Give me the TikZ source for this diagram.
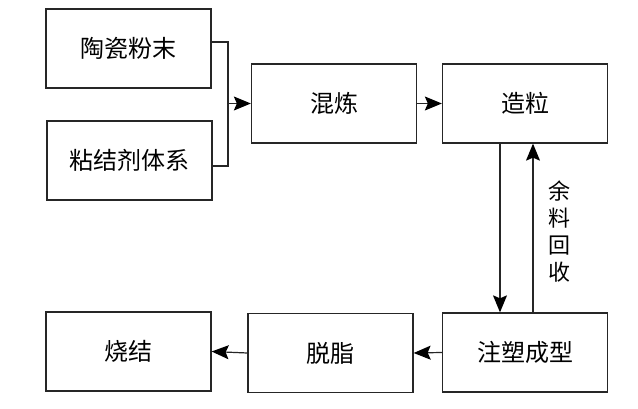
\documentclass[tikz,border=0pt]{standalone}
\usepackage{fontspec}
\newfontfamily\cjk{Noto Sans CJK SC}
\usetikzlibrary{arrows.meta}
\begin{document}
\begin{tikzpicture}[x=1pt,y=1pt,
  box/.style={draw,color=black!85,line width=1.3pt,minimum width=165pt,minimum height=79pt,inner sep=0pt,font=\cjk\fontsize{24}{27}\selectfont,text=black},
  conn/.style={draw,color=black!85,line width=1.2pt},
  arr/.style={conn,arrows={-Stealth[length=17pt,width=14pt,inset=3pt,fill=black,color=black]}}]
\useasboundingbox (0,0) rectangle (638,-409);
\node[box] (powder) at (128.5,-48.5) {陶瓷粉末};
\node[box] (binder) at (129.5,-160.5) {粘结剂体系};
\node[box] (mix) at (334,-103.5) {混炼};
\node[box] (gran) at (525,-103.5) {造粒};
\node[box] (inject) at (525,-352.5) {注塑成型};
\node[box] (debind) at (330.5,-353) {脱脂};
\node[box] (sinter) at (128.5,-351.5) {烧结};
\coordinate (j) at (228,-103.5);
\draw[conn] ([yshift=6.5pt]powder.east) -| (j);
\draw[conn] ([yshift=-5.5pt]binder.east) -| (j);
\draw[arr] (j) -- (mix.west);
\draw[arr] (mix.east) -- (gran.west);
\draw[arr] ([xshift=-25pt]gran.south) -- ([xshift=-25pt]inject.north);
\draw[arr] ([xshift=8pt]inject.north) -- ([xshift=8pt]gran.south);
\node[font=\cjk\fontsize{22}{27}\selectfont,align=center,inner sep=0pt] (lbl) at (559,-232) {余\\料\\回\\收};
\draw[arr] (inject.west) -- (debind.east);
\draw[arr] (debind.west) -- (sinter.east);
\end{tikzpicture}
\end{document}
